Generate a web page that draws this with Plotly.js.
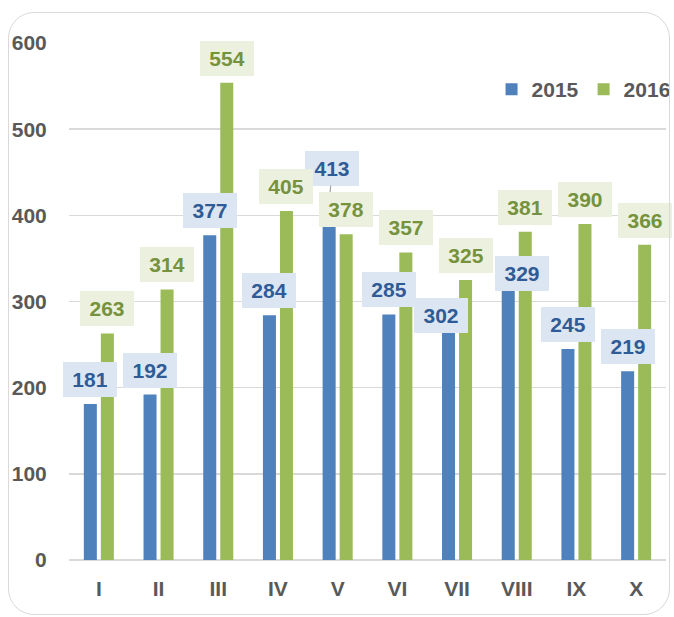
<!DOCTYPE html>
<html>
<head>
<meta charset="utf-8">
<script src="https://cdn.plot.ly/plotly-3.0.1.min.js"></script>
<style>
  html, body { margin: 0; padding: 0; background: #ffffff; }
  #wrap { position: relative; width: 674px; height: 617px; }
  #chart { width: 674px; height: 617px; }
  #frame { position: absolute; left: 8px; top: 12px; width: 662px; height: 603px; box-sizing: border-box;
           border: 1.5px solid #d9d9d9; border-radius: 26px; pointer-events: none; }
</style>
</head>
<body>
<div id="wrap"><div id="chart"></div><div id="frame"></div></div>
<script>
// ---- data ----
const categories = ['I', 'II', 'III', 'IV', 'V', 'VI', 'VII', 'VIII', 'IX', 'X'];
const seriesNames = ['2015', '2016'];
const values2015 = [181, 192, 377, 284, 413, 285, 302, 329, 245, 219];
const values2016 = [263, 314, 554, 405, 378, 357, 325, 381, 390, 366];
const yTickVals = [0, 100, 200, 300, 400, 500, 600];

// ---- styles ----
const FONT = 'Arial, "Liberation Sans", sans-serif';
const FS = 21;
const GRAY = '#595959';
const BLUE = '#4f81bd', GREEN = '#9bbb59';
const BLUE_TXT = '#2f5b96', GREEN_TXT = '#76923c';
const BLUE_BG = '#dce6f2', GREEN_BG = '#ebf1de';
const BARGAP = 0.43, BARGROUPGAP = 0.235;
const slotOffset = (1 - BARGAP) / 4; // centre offset of each bar in category units

// manual label adjustments (pixels), keyed by series index and category index
const labelAdjust = {
  '0-4': { arrow: true, ax: 3, ay: -36 },
  '0-6': { xshift: -8, yshift: -16 },
  '0-7': { xshift: 14, yshift: 3 }
};

const traces = [
  { type: 'bar', name: seriesNames[0], x: categories, y: values2015,
    marker: { color: BLUE }, hoverinfo: 'none' },
  { type: 'bar', name: seriesNames[1], x: categories, y: values2016,
    marker: { color: GREEN }, hoverinfo: 'none' }
];

const annotations = [];
[values2015, values2016].forEach((vals, s) => {
  vals.forEach((v, i) => {
    const adj = labelAdjust[s + '-' + i] || {};
    const a = {
      x: i + (s === 0 ? -slotOffset : slotOffset), y: v, xref: 'x', yref: 'y',
      text: String(v),
      font: { family: FONT, size: FS, color: s === 0 ? BLUE_TXT : GREEN_TXT, weight: 700 },
      bgcolor: s === 0 ? BLUE_BG : GREEN_BG,
      borderwidth: 0, borderpad: 4, width: 46, height: 27,
      xanchor: 'center', yanchor: 'middle'
    };
    if (adj.arrow) {
      a.showarrow = true; a.arrowhead = 0; a.arrowwidth = 1.2; a.arrowcolor = '#a6a6a6';
      a.ax = adj.ax; a.ay = adj.ay; a.standoff = 0;
    } else {
      a.showarrow = false;
      a.xshift = adj.xshift || 0;
      a.yshift = (adj.yshift !== undefined) ? adj.yshift : 24.5;
    }
    annotations.push(a);
  });
});
// draw the arrowed label first so the neighbouring label covers its leader line
annotations.sort((a, b) => (b.showarrow ? 1 : 0) - (a.showarrow ? 1 : 0));

const layout = {
  width: 674, height: 617,
  margin: { l: 69, r: 8, t: 43, b: 57, autoexpand: false },
  paper_bgcolor: '#ffffff', plot_bgcolor: '#ffffff',
  barmode: 'group', bargap: BARGAP, bargroupgap: BARGROUPGAP,
  font: { family: FONT, color: GRAY },
  showlegend: true,
  legend: {
    orientation: 'h', x: 1.016, xanchor: 'right', y: 0.91, yanchor: 'middle',
    font: { family: FONT, size: FS, color: GRAY, weight: 700 },
    itemwidth: 30, bgcolor: 'rgba(0,0,0,0)'
  },
  xaxis: {
    type: 'category', range: [-0.5, categories.length - 0.5],
    showgrid: false, showline: false, zeroline: false,
    ticks: 'outside', ticklen: 10, tickcolor: 'rgba(0,0,0,0)',
    tickfont: { family: FONT, size: FS, color: GRAY, weight: 700 }
  },
  yaxis: {
    range: [0, 600], tickvals: yTickVals, showline: false,
    showgrid: true, gridcolor: '#d9d9d9', gridwidth: 1.5,
    zeroline: true, zerolinecolor: '#d9d9d9', zerolinewidth: 1.5,
    ticks: 'outside', ticklen: 17, tickcolor: 'rgba(0,0,0,0)',
    tickfont: { family: FONT, size: FS, color: GRAY, weight: 700 }
  },
  annotations: annotations
};

Plotly.newPlot('chart', traces, layout, { displayModeBar: false, staticPlot: true });
</script>
</body>
</html>
